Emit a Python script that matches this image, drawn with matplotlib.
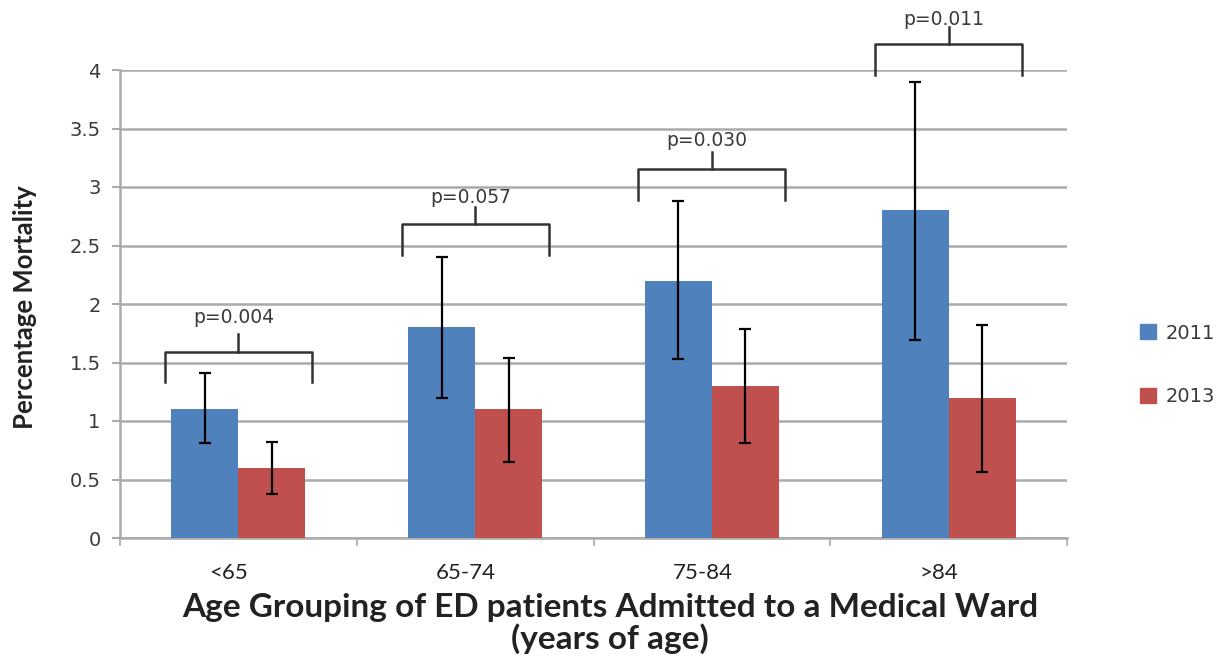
import numpy as np
import matplotlib
matplotlib.use("Agg")
import matplotlib.pyplot as plt
from matplotlib.patches import Patch

plt.rcParams["font.family"] = ["DejaVu Sans"]

# mortality by age group, with error bar limits
groups = ["<65", "65-74", "75-84", ">84"]
series = ["2011", "2013"]
mort_2011 = [1.1, 1.8, 2.2, 2.8]
mort_2013 = [0.6, 1.1, 1.3, 1.2]
lo_2011 = [0.81, 1.20, 1.53, 1.69]
hi_2011 = [1.41, 2.40, 2.88, 3.90]
lo_2013 = [0.38, 0.65, 0.81, 0.56]
hi_2013 = [0.82, 1.54, 1.79, 1.82]
p_values = ["p=0.004", "p=0.057", "p=0.030", "p=0.011"]

# height of each comparison bracket and its label
bracket_y = [1.59, 2.68, 3.15, 4.22]
label_gap = [0.21, 0.15, 0.17, 0.13]

blue = "#4F81BD"
red = "#C0504D"
grid_col = "#ababab"
txt_col = "#3a3a3a"

fig = plt.figure(figsize=(12.2, 6.57), dpi=100)
ax = fig.add_axes([120 / 1220, 1 - 538 / 657, 947 / 1220, 468 / 657])

x = np.arange(len(groups))
w = 0.283

m11 = np.array(mort_2011)
m13 = np.array(mort_2013)
err11 = [m11 - np.array(lo_2011), np.array(hi_2011) - m11]
err13 = [m13 - np.array(lo_2013), np.array(hi_2013) - m13]

ekw = dict(ecolor="black", elinewidth=1.6, capsize=4.5, capthick=1.6)
ax.bar(x - w / 2, m11, w, color=blue, yerr=err11, error_kw=ekw, zorder=3)
ax.bar(x + w / 2, m13, w, color=red, yerr=err13, error_kw=ekw, zorder=3)

ax.set_xlim(-0.5, 3.5)
ax.set_ylim(0, 4)
ax.set_yticks(np.arange(0, 4.01, 0.5))
ax.set_yticklabels(["0", "0.5", "1", "1.5", "2", "2.5", "3", "3.5", "4"])
ax.yaxis.grid(True, color=grid_col, linewidth=1.8, zorder=0)
ax.set_axisbelow(True)

for s in ["top", "right"]:
    ax.spines[s].set_visible(False)
for s in ["left", "bottom"]:
    ax.spines[s].set_color(grid_col)
    ax.spines[s].set_linewidth(1.8)

ax.tick_params(axis="y", length=6, width=1.5, color=grid_col, labelsize=14,
               labelcolor=txt_col, pad=8)
# category boundary ticks on the x axis, labels in between
ax.set_xticks(np.arange(-0.5, 3.6, 1.0))
ax.set_xticklabels([])
ax.tick_params(axis="x", length=6, width=1.2, color=grid_col)
for i, g in enumerate(groups):
    ax.text(i - 0.04, -0.3, g, ha="center", va="center", fontsize=16,
            family="Lato", color="#222222")

# significance brackets
half = 0.31
drop = 0.26
for i, (by, p) in enumerate(zip(bracket_y, p_values)):
    ax.plot([i - half, i - half, i + half, i + half],
            [by - drop, by, by, by - drop],
            color="#333333", lw=1.8, clip_on=False, zorder=4)
    ax.plot([i, i], [by, by + 0.15], color="#333333", lw=1.8,
            clip_on=False, zorder=4)
    ax.text(i - 0.02, by + label_gap[i], p, ha="center", va="bottom",
            fontsize=13.5, color=txt_col, clip_on=False)

fig.text(25 / 1220, 1 - 307 / 657, "Percentage Mortality", rotation=90,
         ha="center", va="center", fontsize=18.5, fontweight="bold",
         family="Lato", color="#222222")
fig.text(0.5, 1 - 608 / 657, "Age Grouping of ED patients Admitted to a Medical Ward",
         ha="center", va="center", fontsize=24, fontweight="bold",
         family="Lato", color="#222222")
fig.text(0.5, 1 - 639 / 657, "(years of age)", ha="center", va="center",
         fontsize=24, fontweight="bold", family="Lato", color="#222222")

handles = [Patch(color=blue), Patch(color=red)]
fig.legend(handles, series, loc="center left",
           bbox_to_anchor=(1140 / 1220, 1 - 365 / 657), frameon=False,
           fontsize=14, handlelength=0.8, handleheight=0.8,
           labelspacing=2.3, handletextpad=0.5, borderpad=0,
           borderaxespad=0, labelcolor=txt_col)

fig.savefig("out.png", dpi=100)
